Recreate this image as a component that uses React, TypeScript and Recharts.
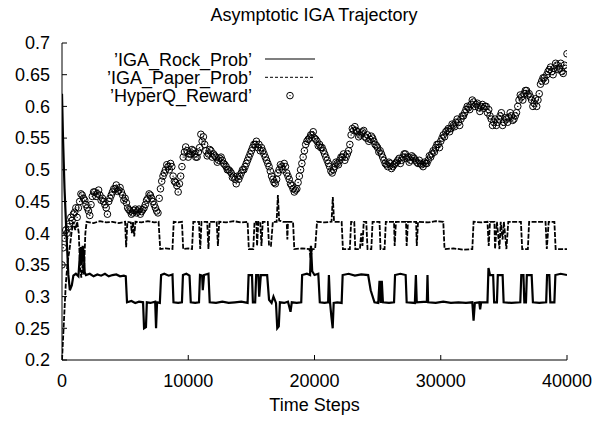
import { ComposedChart, Line, Scatter, XAxis, YAxis, Legend } from 'recharts';

// values (x = time step, y = probability / reward)
const rockTrace: [number, number][] = [
  [0, 0.62], [80, 0.55], [200, 0.47], [350, 0.4], [500, 0.335], [620, 0.31], [780, 0.318], [900, 0.333],
  [1100, 0.336], [1300, 0.332], [1400, 0.36], [1480, 0.378], [1560, 0.35], [1640, 0.38], [1720, 0.37], [1800, 0.338],
  [1900, 0.334], [2200, 0.336], [2500, 0.332], [2800, 0.335], [3100, 0.333], [3400, 0.336], [3700, 0.332], [4000, 0.334],
  [4300, 0.335], [4600, 0.332], [4900, 0.333], [5050, 0.332], [5150, 0.291], [5500, 0.293], [5800, 0.29], [6100, 0.292],
  [6420, 0.291], [6500, 0.25], [6650, 0.252], [6720, 0.291], [7000, 0.29], [7380, 0.292], [7450, 0.25], [7530, 0.291],
  [7750, 0.29], [7850, 0.334], [8100, 0.336], [8450, 0.333], [8750, 0.335], [8830, 0.291], [9200, 0.29], [9500, 0.291],
  [9580, 0.334], [9850, 0.336], [10100, 0.333], [10200, 0.291], [10550, 0.29], [10850, 0.291], [10930, 0.334], [11100, 0.333],
  [11150, 0.31], [11250, 0.334], [11600, 0.336], [11700, 0.291], [12200, 0.29], [12700, 0.292], [13200, 0.29], [13700, 0.291],
  [14200, 0.292], [14700, 0.29], [14780, 0.334], [15050, 0.334], [15120, 0.291], [15300, 0.291], [15380, 0.334], [15550, 0.334],
  [15620, 0.3], [15750, 0.334], [16250, 0.334], [16400, 0.295], [16600, 0.29], [16750, 0.3], [16950, 0.29], [17050, 0.25],
  [17170, 0.253], [17260, 0.291], [17600, 0.29], [17900, 0.292], [18100, 0.276], [18200, 0.291], [18600, 0.29], [18950, 0.291],
  [19020, 0.334], [19400, 0.336], [19650, 0.334], [19720, 0.38], [19820, 0.34], [20000, 0.334], [20300, 0.336], [20420, 0.291],
  [20800, 0.29], [21080, 0.291], [21140, 0.334], [21230, 0.291], [21330, 0.27], [21440, 0.25], [21520, 0.29], [21800, 0.291],
  [22150, 0.29], [22230, 0.334], [22700, 0.336], [23200, 0.333], [23700, 0.335], [24250, 0.334], [24450, 0.31], [24750, 0.291],
  [25050, 0.29], [25150, 0.325], [25250, 0.29], [25330, 0.325], [25420, 0.291], [25900, 0.29], [26300, 0.291], [26380, 0.334],
  [26800, 0.336], [27220, 0.334], [27300, 0.291], [27950, 0.29], [28030, 0.334], [28100, 0.291], [28900, 0.292], [28950, 0.334],
  [29000, 0.291], [29600, 0.29], [30200, 0.292], [30800, 0.29], [31400, 0.291], [32000, 0.29], [32500, 0.291], [32600, 0.262],
  [32700, 0.29], [33050, 0.291], [33120, 0.28], [33200, 0.291], [33700, 0.291], [33780, 0.345], [33900, 0.334], [34150, 0.334],
  [34230, 0.291], [34450, 0.291], [34520, 0.334], [34900, 0.334], [34980, 0.291], [35600, 0.29], [36300, 0.291], [36380, 0.334],
  [36550, 0.334], [36620, 0.291], [36750, 0.291], [36820, 0.334], [37200, 0.334], [37300, 0.291], [37800, 0.29], [38350, 0.291],
  [38420, 0.334], [38600, 0.334], [38680, 0.291], [39000, 0.291], [39080, 0.334], [39500, 0.336], [40000, 0.334],
];

const paperTrace: [number, number][] = [
  [0, 0.2], [150, 0.26], [300, 0.32], [450, 0.355], [600, 0.375], [750, 0.4], [900, 0.418], [1050, 0.405],
  [1200, 0.418], [1330, 0.4], [1430, 0.345], [1530, 0.33], [1630, 0.35], [1730, 0.335], [1850, 0.4], [1950, 0.418],
  [2500, 0.416], [3000, 0.419], [3500, 0.417], [4000, 0.418], [4500, 0.416], [5000, 0.418], [5080, 0.378], [5180, 0.418],
  [5450, 0.417], [5530, 0.4], [5620, 0.418], [5720, 0.395], [5820, 0.418], [6300, 0.417], [6800, 0.419], [7300, 0.417],
  [7650, 0.418], [7780, 0.375], [8200, 0.376], [8750, 0.375], [8850, 0.418], [9200, 0.417], [9500, 0.418], [9600, 0.375],
  [10000, 0.376], [10300, 0.375], [10400, 0.418], [10850, 0.418], [10950, 0.375], [11050, 0.418], [11500, 0.418], [11600, 0.375],
  [11700, 0.418], [12250, 0.418], [12350, 0.38], [12450, 0.418], [13000, 0.417], [13600, 0.419], [14200, 0.417], [14700, 0.418],
  [14800, 0.375], [15150, 0.375], [15250, 0.418], [15400, 0.418], [15450, 0.38], [15550, 0.418], [15700, 0.418], [15800, 0.38],
  [15900, 0.418], [16300, 0.418], [16400, 0.38], [16550, 0.38], [16700, 0.418], [17000, 0.418], [17100, 0.46], [17200, 0.42],
  [17500, 0.418], [17800, 0.418], [17850, 0.39], [17900, 0.418], [18300, 0.418], [18400, 0.375], [19000, 0.376], [19600, 0.375],
  [19700, 0.36], [19800, 0.375], [20050, 0.375], [20200, 0.418], [20800, 0.417], [21350, 0.418], [21450, 0.457], [21550, 0.418],
  [22150, 0.418], [22250, 0.375], [22800, 0.375], [22900, 0.418], [23150, 0.418], [23230, 0.375], [23600, 0.375], [23700, 0.4],
  [23800, 0.38], [23900, 0.418], [24100, 0.418], [24200, 0.375], [24500, 0.375], [24600, 0.418], [25150, 0.418], [25230, 0.375],
  [25550, 0.375], [25650, 0.418], [26300, 0.418], [26350, 0.38], [26450, 0.418], [27250, 0.418], [27300, 0.38], [27400, 0.418],
  [28050, 0.418], [28100, 0.38], [28200, 0.418], [29000, 0.417], [29600, 0.419], [30200, 0.418], [30300, 0.375], [31000, 0.376],
  [31800, 0.374], [32500, 0.375], [32600, 0.418], [33200, 0.417], [33700, 0.418], [33800, 0.38], [33900, 0.418], [34250, 0.418],
  [34300, 0.375], [34450, 0.418], [34650, 0.375], [34750, 0.418], [34900, 0.39], [35000, 0.418], [35200, 0.375], [35350, 0.418],
  [36350, 0.418], [36450, 0.375], [36900, 0.375], [37000, 0.418], [38300, 0.418], [38400, 0.375], [38550, 0.418], [39000, 0.418],
  [39100, 0.375], [40000, 0.375],
];

// HyperQ reward samples: one list at steps 0, 200, 400 ... and one at 100, 300, 500 ...
const rewardEvery = 200;
const rewardValues = [
  0.35, 0.392, 0.4, 0.415, 0.42, 0.433, 0.425, 0.45, 0.46, 0.452, 0.44, 0.428, 0.458, 0.465, 0.462, 0.46,
  0.455, 0.445, 0.43, 0.455, 0.465, 0.47, 0.466, 0.472, 0.46, 0.455, 0.44, 0.435, 0.432, 0.438, 0.435, 0.43,
  0.437, 0.445, 0.455, 0.46, 0.45, 0.44, 0.432, 0.47, 0.49, 0.5, 0.505, 0.51, 0.49, 0.48, 0.465, 0.49,
  0.52, 0.536, 0.52, 0.525, 0.53, 0.52, 0.528, 0.556, 0.552, 0.53, 0.525, 0.53, 0.525, 0.52, 0.515, 0.52,
  0.51, 0.505, 0.5, 0.495, 0.49, 0.478, 0.485, 0.495, 0.5, 0.51, 0.52, 0.53, 0.54, 0.545, 0.54, 0.535,
  0.525, 0.515, 0.505, 0.49, 0.48, 0.485, 0.5, 0.505, 0.51, 0.495, 0.485, 0.475, 0.465, 0.47, 0.49, 0.51,
  0.53, 0.545, 0.55, 0.555, 0.55, 0.545, 0.54, 0.535, 0.525, 0.515, 0.505, 0.495, 0.505, 0.51, 0.515, 0.52,
  0.515, 0.525, 0.54, 0.565, 0.568, 0.56, 0.555, 0.56, 0.552, 0.555, 0.548, 0.55, 0.54, 0.535, 0.53, 0.52,
  0.51, 0.505, 0.51, 0.505, 0.51, 0.515, 0.51, 0.52, 0.525, 0.52, 0.515, 0.52, 0.515, 0.51, 0.51, 0.505,
  0.51, 0.515, 0.52, 0.53, 0.535, 0.54, 0.545, 0.555, 0.56, 0.565, 0.565, 0.57, 0.575, 0.575, 0.58, 0.585,
  0.595, 0.598, 0.603, 0.607, 0.603, 0.598, 0.6, 0.597, 0.6, 0.595, 0.58, 0.575, 0.57, 0.58, 0.59, 0.575,
  0.58, 0.583, 0.585, 0.58, 0.59, 0.61, 0.615, 0.62, 0.625, 0.62, 0.61, 0.605, 0.6, 0.62, 0.64, 0.645,
  0.65, 0.658, 0.655, 0.66, 0.665, 0.66, 0.655, 0.665, 0.683,
];
const rewardMidValues = [
  0.377, 0.405, 0.41, 0.425, 0.43, 0.44, 0.44, 0.462, 0.455, 0.445, 0.435, 0.445, 0.465, 0.458, 0.468, 0.452,
  0.45, 0.44, 0.45, 0.46, 0.47, 0.476, 0.468, 0.465, 0.452, 0.448, 0.437, 0.43, 0.436, 0.432, 0.438, 0.434,
  0.44, 0.452, 0.462, 0.455, 0.445, 0.435, 0.455, 0.482, 0.495, 0.508, 0.5, 0.505, 0.482, 0.475, 0.478, 0.505,
  0.528, 0.53, 0.525, 0.532, 0.525, 0.52, 0.535, 0.545, 0.54, 0.522, 0.532, 0.52, 0.522, 0.512, 0.518, 0.515,
  0.508, 0.5, 0.498, 0.488, 0.485, 0.49, 0.49, 0.5, 0.505, 0.515, 0.525, 0.535, 0.54, 0.535, 0.53, 0.53,
  0.52, 0.51, 0.498, 0.485, 0.478, 0.495, 0.508, 0.5, 0.505, 0.49, 0.478, 0.47, 0.468, 0.48, 0.5, 0.52,
  0.54, 0.548, 0.555, 0.56, 0.548, 0.538, 0.535, 0.53, 0.52, 0.51, 0.498, 0.5, 0.512, 0.508, 0.52, 0.525,
  0.52, 0.53, 0.555, 0.562, 0.562, 0.552, 0.558, 0.562, 0.55, 0.545, 0.553, 0.545, 0.538, 0.528, 0.525, 0.515,
  0.508, 0.512, 0.502, 0.508, 0.512, 0.518, 0.515, 0.525, 0.518, 0.512, 0.522, 0.518, 0.512, 0.515, 0.508, 0.512,
  0.51, 0.522, 0.525, 0.528, 0.54, 0.535, 0.55, 0.552, 0.562, 0.56, 0.572, 0.568, 0.58, 0.57, 0.585, 0.59,
  0.6, 0.595, 0.61, 0.6, 0.605, 0.592, 0.603, 0.6, 0.59, 0.585, 0.57, 0.58, 0.575, 0.585, 0.57, 0.582,
  0.575, 0.59, 0.578, 0.585, 0.6, 0.618, 0.61, 0.625, 0.618, 0.615, 0.6, 0.612, 0.61, 0.635, 0.645, 0.64,
  0.655, 0.662, 0.65, 0.668, 0.658, 0.668, 0.652, 0.66,
];

const xTicks = [0, 10000, 20000, 30000, 40000];
const yTicks = [0.2, 0.25, 0.3, 0.35, 0.4, 0.45, 0.5, 0.55, 0.6, 0.65, 0.7];

const rockData = rockTrace.map(([x, y]) => ({ x, y }));
const paperData = paperTrace.map(([x, y]) => ({ x, y }));
const rewardData = [
  ...rewardValues.map((y, i) => ({ x: i * rewardEvery, y })),
  ...rewardMidValues.map((y, i) => ({ x: i * rewardEvery + rewardEvery / 2, y })),
].sort((a, b) => a.x - b.x);

const FONT = '"Liberation Sans", Arial, Helvetica, sans-serif';

function Ring(props: any) {
  const { cx, cy } = props;
  if (cx == null || cy == null) return null;
  return (
    <g>
      <circle cx={cx} cy={cy} r={3.3} fill="none" stroke="#000" strokeWidth={1} />
      <circle cx={cx} cy={cy} r={0.7} fill="#000" />
    </g>
  );
}

function KeyBox() {
  const rows = [
    { label: "\u2019IGA_Rock_Prob\u2019", kind: 'solid' },
    { label: "\u2019IGA_Paper_Prob\u2019", kind: 'dashed' },
    { label: "\u2019HyperQ_Reward\u2019", kind: 'points' },
  ];
  return (
    <svg width={240} height={64} style={{ display: 'block', overflow: 'visible' }}>
      {rows.map((r, i) => {
        const cy = 11 + i * 18.3;
        return (
          <g key={r.label}>
            <text x={152} y={cy + 6.5} textAnchor="end" fontSize={18} fontFamily={FONT} fill="#000">
              {r.label}
            </text>
            {r.kind === 'solid' && <line x1={165} x2={215} y1={cy} y2={cy} stroke="#000" strokeWidth={1.2} />}
            {r.kind === 'dashed' && (
              <line x1={165} x2={215} y1={cy} y2={cy} stroke="#000" strokeWidth={1} strokeDasharray="3 2" />
            )}
            {r.kind === 'points' && <Ring cx={190} cy={cy} />}
          </g>
        );
      })}
    </svg>
  );
}

export default function App() {
  return (
    <div style={{ position: 'absolute', left: 0, top: 0, width: 592, height: 421, background: '#fff' }}>
      <div
        style={{
          position: 'absolute', left: 0, top: 4, width: 628, textAlign: 'center',
          fontFamily: FONT, fontSize: 18, lineHeight: '22px', color: '#000',
        }}
      >
        Asymptotic IGA Trajectory
      </div>
      <ComposedChart width={592} height={421} margin={{ top: 43, right: 25, left: 0, bottom: 0 }}>
        <XAxis
          xAxisId="b" type="number" dataKey="x" domain={[0, 40000]} ticks={xTicks}
          orientation="bottom" height={61} tickSize={-5} tickMargin={19}
          axisLine={{ stroke: '#000' }} tickLine={{ stroke: '#000' }}
          tick={{ fill: '#000', fontSize: 18, fontFamily: FONT }}
          allowDataOverflow
          label={{ value: 'Time Steps', position: 'insideBottom', offset: 10, fill: '#000', fontSize: 18, fontFamily: FONT }}
        />
        <XAxis
          xAxisId="t" type="number" dataKey="x" domain={[0, 40000]} ticks={xTicks}
          orientation="top" height={0} tickSize={-5} tick={false}
          axisLine={{ stroke: '#000' }} tickLine={{ stroke: '#000' }} allowDataOverflow
        />
        <YAxis
          yAxisId="l" type="number" domain={[0.2, 0.7]} ticks={yTicks} width={62}
          tickSize={-5} tickMargin={17} interval={0}
          axisLine={{ stroke: '#000' }} tickLine={{ stroke: '#000' }}
          tick={{ fill: '#000', fontSize: 18, fontFamily: FONT }}
          allowDataOverflow
        />
        <YAxis
          yAxisId="r" orientation="right" type="number" domain={[0.2, 0.7]} ticks={yTicks} width={0}
          tickSize={-5} tick={false} interval={0}
          axisLine={{ stroke: '#000' }} tickLine={{ stroke: '#000' }} allowDataOverflow
        />
        <Legend
          layout="horizontal" verticalAlign="middle" align="center"
          wrapperStyle={{ position: 'absolute', left: 100, top: 48, width: 240, height: 64 }}
          content={() => <KeyBox />}
        />
        <Line
          xAxisId="b" yAxisId="l" data={rockData} dataKey="y" type="linear" name="IGA_Rock_Prob"
          stroke="#000" strokeWidth={2.2} dot={false} isAnimationActive={false}
        />
        <Line
          xAxisId="b" yAxisId="l" data={paperData} dataKey="y" type="linear" name="IGA_Paper_Prob"
          stroke="#000" strokeWidth={1.8} strokeDasharray="5 1.5" dot={false} isAnimationActive={false}
        />
        <Scatter
          xAxisId="b" yAxisId="l" data={rewardData} dataKey="y" name="HyperQ_Reward"
          shape={<Ring />} isAnimationActive={false}
        />
      </ComposedChart>
    </div>
  );
}
